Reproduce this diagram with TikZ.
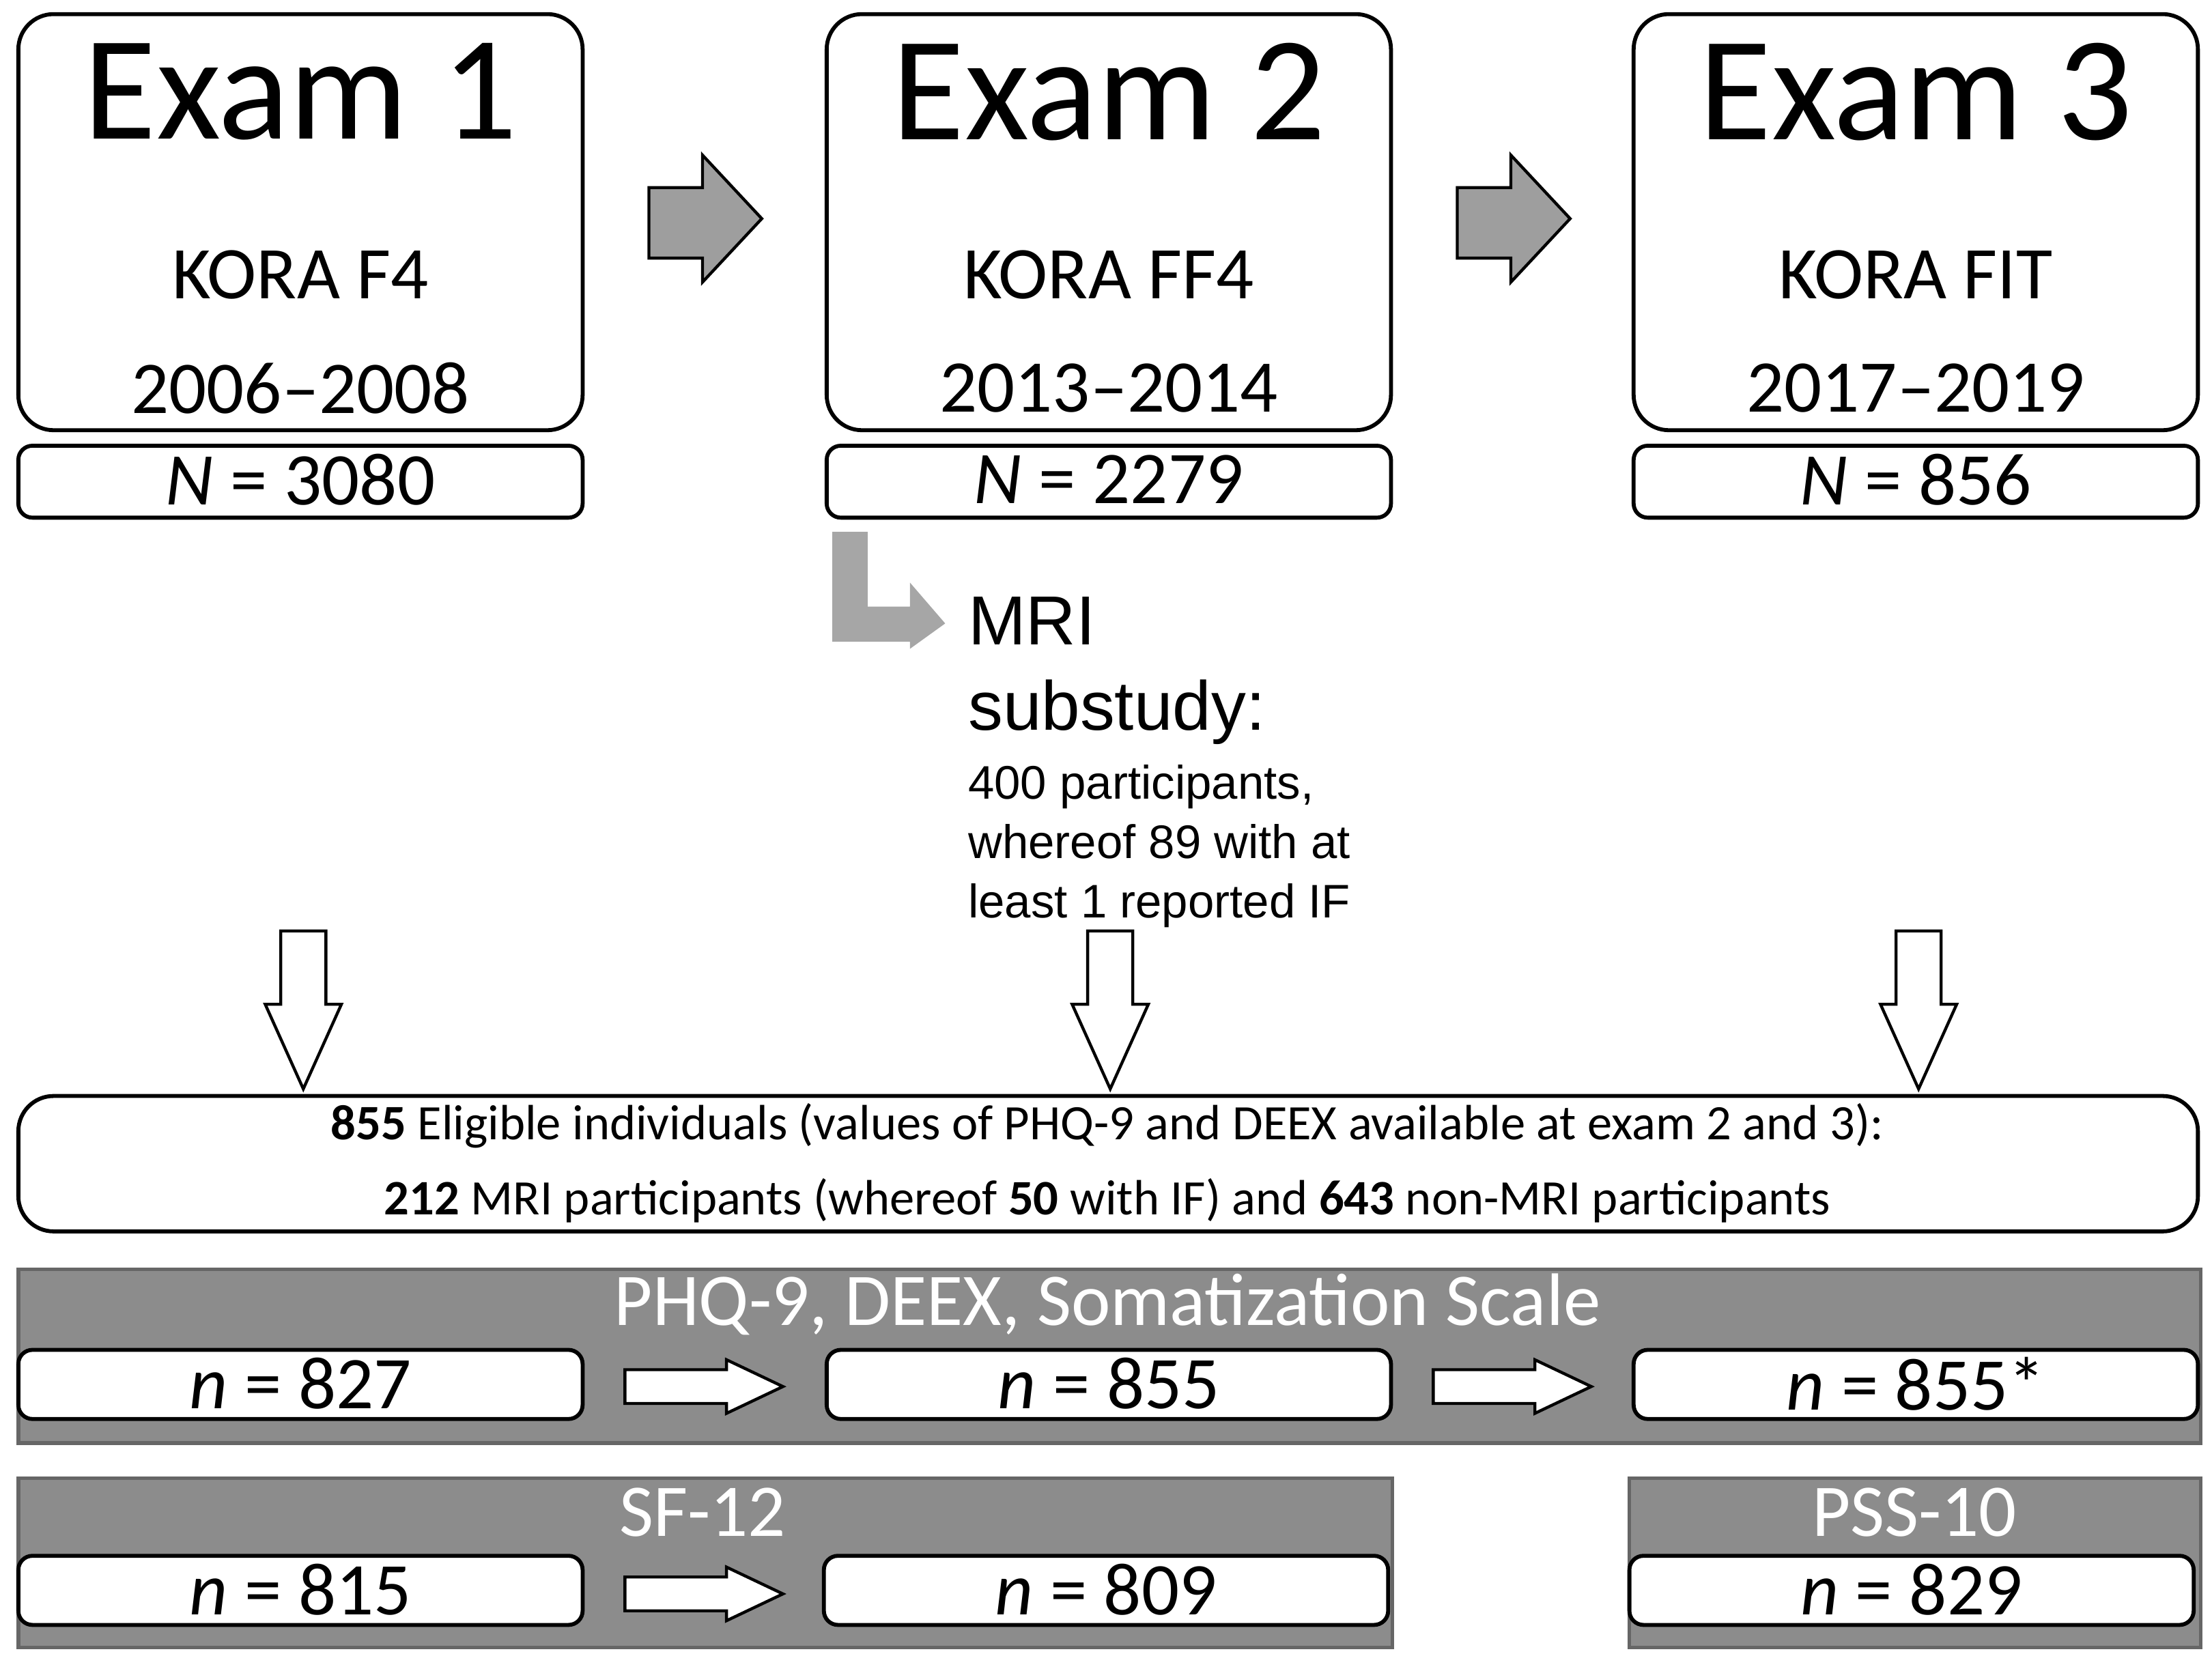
\documentclass[tikz,border=0pt]{standalone}
\usepackage{fontspec}
\setmainfont{Carlito}
\newfontfamily\arialf{Liberation Sans}
\begin{document}
\begin{tikzpicture}[x=0.02cm,y=-0.02cm,
  exam/.style={draw,line width=1.6pt,rounded corners=0.5cm},
  nbox/.style={draw,line width=1.6pt,rounded corners=0.2cm,fill=white},
  band/.style={draw=gray!80!black,line width=1.5pt,fill=black!45},
  garrow/.style={draw,line width=1.2pt,fill=black!38},
  warrow/.style={draw,line width=1.2pt,fill=white}]
\useasboundingbox (0,0) rectangle (1568,1183);
\foreach \i/\x/\k/\yr/\nn in {1/13/KORA F4/2006--2008/3080,2/586/KORA FF4/2013--2014/2279,3/1158/KORA FIT/2017--2019/856}{
  \draw[exam] (\x,10) rectangle ++(400,295);
  \node (e\i) at (\x+200,65) {\fontsize{60}{62}\selectfont Exam \i};
  \node (k\i) at (\x+200,195) {\fontsize{30}{32}\selectfont \k};
  \node (y\i) at (\x+200,275) {\fontsize{30}{32}\selectfont \yr};
  \draw[nbox] (\x,316) rectangle ++(400,51);
  \node (n\i) at (\x+200,340) {\fontsize{30}{32}\selectfont \textit{N} = \nn};
}
\foreach \x in {460,1033}{
  \draw[garrow] (\x,133) -- (\x+38,133) -- (\x+38,110) -- (\x+80,155) -- (\x+38,200) -- (\x+38,183) -- (\x,183) -- cycle;
}
\fill[black!35] (590,377) -- (615,377) -- (615,430) -- (645,430) -- (645,413) -- (670,442) -- (645,460) -- (645,455) -- (590,455) -- cycle;
\node[anchor=west,inner sep=0,font={\arialf\fontsize{28}{32}\selectfont}] (mri) at (686,440) {MRI};
\node[anchor=west,inner sep=0,font={\arialf\fontsize{28}{32}\selectfont}] (sub) at (686,505) {substudy:};
\node[anchor=north west,align=left,inner sep=0,font={\arialf\fontsize{19}{24}\selectfont}] (det) at (686,542) {400 participants,\\ whereof 89 with at\\ least 1 reported IF};
\foreach \x in {215,787,1360}{
  \draw[warrow] (\x-16,660) -- (\x+16,660) -- (\x+16,712) -- (\x+27,712) -- (\x,772) -- (\x-27,712) -- (\x-16,712) -- cycle;
}
\draw[exam] (13,777) rectangle (1558,873);
\node (el1) at (785,798) {\fontsize{20}{22}\selectfont \textbf{855} Eligible individuals (values of PHQ-9 and DEEX available at exam 2 and 3):};
\node (el2) at (785,851) {\fontsize{20}{22}\selectfont \textbf{212} MRI participants (whereof \textbf{50} with IF) and \textbf{643} non-MRI participants};
\draw[band] (13,900) rectangle (1560,1023);
\node[text=white] (t1) at (785,925) {\fontsize{30}{32}\selectfont PHQ-9, DEEX, Somatization Scale};
\draw[band] (13,1048) rectangle (987,1168);
\node[text=white] (t2) at (498,1072) {\fontsize{30}{32}\selectfont SF-12};
\draw[band] (1155,1048) rectangle (1560,1168);
\node[text=white] (t3) at (1357,1072) {\fontsize{30}{32}\selectfont PSS-10};
\foreach \x/\y/\v/\nm in {13/957/827/a,586/957/855/b,1158/957/855*/c,13/1103/815/d,584/1103/809/e,1155/1103/829/f}{
  \draw[nbox] (\x,\y) rectangle ++(400,49);
  \node (m\nm) at (\x+200,\y+24) {\fontsize{30}{32}\selectfont \textit{n} = \v};
}
\foreach \x/\y in {443/983,1016/983,443/1130}{
  \draw[warrow] (\x,\y-12) -- (\x+72,\y-12) -- (\x+72,\y-19) -- (\x+112,\y) -- (\x+72,\y+19) -- (\x+72,\y+12) -- (\x,\y+12) -- cycle;
}
\end{tikzpicture}
\end{document}
